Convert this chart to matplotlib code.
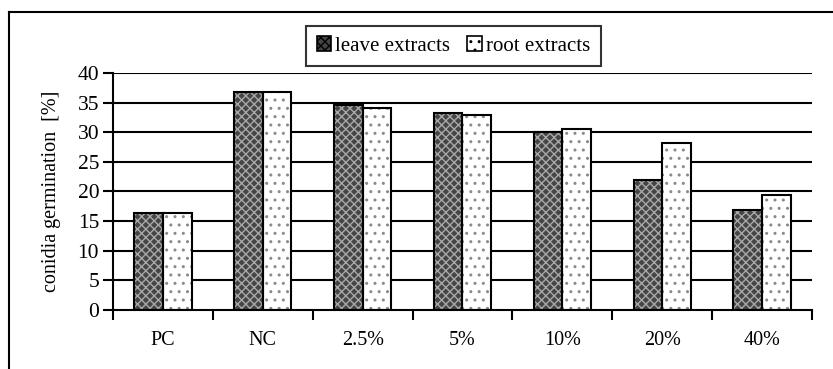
import matplotlib.pyplot as plt
import numpy as np
from matplotlib.lines import Line2D
from matplotlib.patches import Patch

plt.rcParams['font.family'] = ['Liberation Serif', 'DejaVu Serif']
plt.rcParams['hatch.linewidth'] = 1.0

# data
categories = ['PC', 'NC', '2.5%', '5%', '10%', '20%', '40%']
leave = [16.3, 36.8, 34.6, 33.2, 30.1, 21.9, 16.9]
root = [16.3, 36.8, 34.1, 32.9, 30.5, 28.2, 19.4]

fig = plt.figure(figsize=(8.33, 3.69), dpi=100)
ax = fig.add_axes([0.1357, 0.1599, 0.839, 0.6423])

x = np.arange(len(categories))
w = 0.287

# grid lines behind bars
for v in range(5, 45, 5):
    ax.axhline(v, color='black', lw=1.5, zorder=0)

# leave extracts: dark checkered
ax.bar(x - w / 2, leave, w, color='#454545', edgecolor='none', zorder=2)
ax.bar(x - w / 2, leave, w, color='none', edgecolor='#a8a8a8', hatch='xxxx', lw=0, zorder=3)
ax.bar(x - w / 2, leave, w, color='none', edgecolor='black', lw=1.5, zorder=4)

# root extracts: white with sparse marks
ax.bar(x + w / 2, root, w, color='white', edgecolor='none', zorder=2)
ax.bar(x + w / 2, root, w, color='none', edgecolor='#8a8a8a', hatch='..', lw=0, zorder=3)
ax.bar(x + w / 2, root, w, color='none', edgecolor='black', lw=1.5, zorder=4)

ax.set_xlim(-0.5, len(categories) - 0.5)
ax.set_ylim(0, 40)
ax.set_yticks(range(0, 45, 5))
ax.set_xticks(x)
ax.set_xticklabels(categories, fontsize=14.5)
ax.set_xticks(np.arange(-0.5, len(categories), 1), minor=True)
ax.tick_params(axis='x', which='major', length=0, pad=15)
ax.tick_params(axis='x', which='minor', length=7, width=1.5, direction='out')
ax.tick_params(axis='y', length=7, width=1.5, direction='out', labelsize=15.5, pad=3)
ax.set_ylabel('conidia germination  [%]', fontsize=14.5, labelpad=12)

for s in ['top', 'right']:
    ax.spines[s].set_visible(False)
for s in ['left', 'bottom']:
    ax.spines[s].set_linewidth(1.5)
    ax.spines[s].set_zorder(5)

handles = [
    Patch(facecolor='#454545', edgecolor='black', hatch='xxxx', lw=1.2),
    Patch(facecolor='white', edgecolor='black', hatch='..', lw=1.2),
]
leg = ax.legend(handles, ['leave extracts', 'root extracts'], loc='lower center',
                bbox_to_anchor=(0.487, 0.984), ncol=2, fontsize=15, frameon=True,
                fancybox=False, edgecolor='black', handlelength=0.7, handleheight=0.7,
                handletextpad=0.2, columnspacing=0.8, borderpad=0.5)
leg.get_frame().set_linewidth(1.5)
leg.set_zorder(6)

# outer chart frame (cut off at right and bottom)
fig.add_artist(Line2D([9 / 833, 9 / 833], [0, 1 - 12 / 369], color='black', lw=1.5))
fig.add_artist(Line2D([9 / 833, 1], [1 - 12 / 369, 1 - 12 / 369], color='black', lw=1.5))

fig.savefig('out.png', dpi=100)
